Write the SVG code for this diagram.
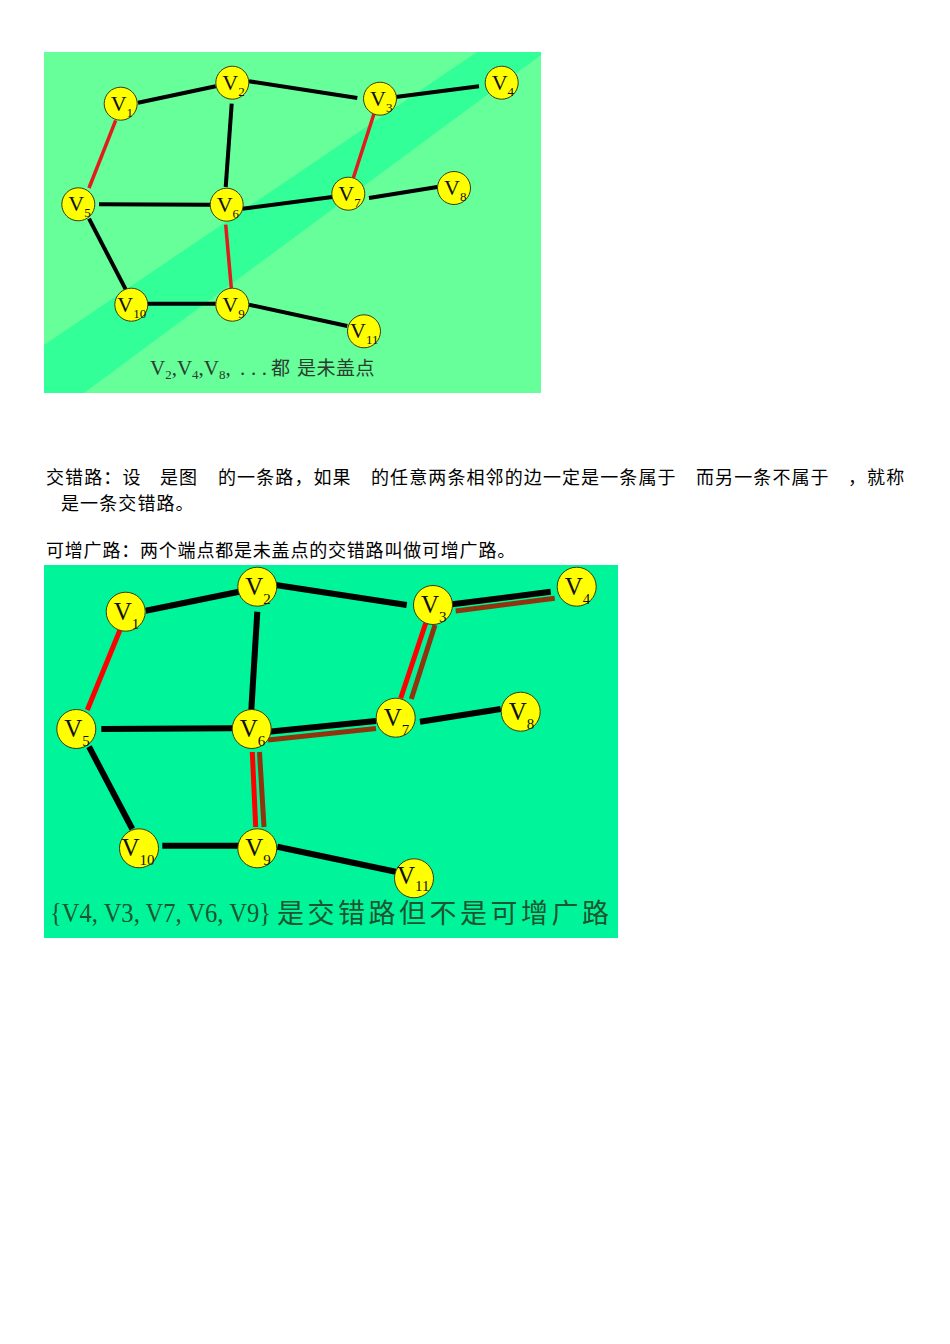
<svg xmlns="http://www.w3.org/2000/svg" width="950" height="1344" viewBox="0 0 950 1344">
<style>
.bg{fill:#ffffff}
.nd circle{fill:#ffff00;stroke:#3a3a10;stroke-width:1}
.tv{font-family:"Liberation Serif","Times New Roman",serif;font-size:22px;fill:#111}
.ts{font-size:13px}
.bv{font-family:"Liberation Serif","Times New Roman",serif;font-size:25px;fill:#111}
.bs{font-size:15px}
.tk{stroke:#000;stroke-width:4;fill:none}
.tr{stroke:#e31b1b;stroke-width:3.5;fill:none}
.bk{stroke:#000;stroke-width:6;fill:none}
.br{stroke:#ff0000;stroke-width:5;fill:none}
.bb{stroke:#8f340c;stroke-width:5;fill:none}
.body{font-family:"Noto Sans CJK SC","Noto Sans",sans-serif;font-size:18px;fill:#000}
.cap1{font-family:"Liberation Serif","Times New Roman",serif;font-size:21px;fill:#2b3d30}
.cap1c{font-family:"Noto Sans CJK SC",sans-serif;font-size:19px;fill:#2b3d30}
.cap2{font-family:"Liberation Serif","Times New Roman",serif;font-size:27px;fill:#1d5530}
.cap2c{font-family:"Noto Sans CJK SC",sans-serif;font-size:27px;fill:#1d5530}
</style>
<rect class="bg" x="0" y="0" width="950" height="1344"/>

<!-- Top panel -->
<g id="top-panel">
<rect x="44" y="52" width="497" height="341" fill="#66ff99"/>
<polygon points="44,345 477,52 541,52 541,55 84,393 44,393" fill="#33ff99"/>
</g>

<g id="top-edges">
<line class="tk" x1="138" y1="102.7" x2="215.7" y2="86.3"/>
<line class="tk" x1="249" y1="81.3" x2="357.3" y2="98"/>
<line class="tk" x1="395.7" y1="97" x2="479" y2="86.3"/>
<line class="tr" x1="115.7" y1="120.3" x2="89" y2="188"/>
<line class="tk" x1="231.7" y1="103.7" x2="225.7" y2="187"/>
<line class="tk" x1="99" y1="204.3" x2="210.7" y2="204.7"/>
<line class="tk" x1="242.3" y1="208.7" x2="332.3" y2="197"/>
<line class="tr" x1="374" y1="113.7" x2="353.3" y2="178"/>
<line class="tk" x1="369" y1="198" x2="437.3" y2="187"/>
<line class="tk" x1="89" y1="218.7" x2="125.7" y2="289.3"/>
<line class="tr" x1="225.7" y1="224.7" x2="231.3" y2="288"/>
<line class="tk" x1="147.3" y1="303.7" x2="215.7" y2="303.7"/>
<line class="tk" x1="249" y1="304.7" x2="347.3" y2="326"/>
</g>

<g id="t-v1" class="nd"><circle cx="120.7" cy="103.7" r="16.5"/><text class="tv" x="110.7" y="110.7">V<tspan class="ts" dy="6">1</tspan></text></g>
<g id="t-v2" class="nd"><circle cx="232.3" cy="82.7" r="16.5"/><text class="tv" x="222.3" y="89.7">V<tspan class="ts" dy="6">2</tspan></text></g>
<g id="t-v3" class="nd"><circle cx="380" cy="98.7" r="16.5"/><text class="tv" x="370" y="105.7">V<tspan class="ts" dy="6">3</tspan></text></g>
<g id="t-v4" class="nd"><circle cx="501.7" cy="82.7" r="16.5"/><text class="tv" x="491.7" y="89.7">V<tspan class="ts" dy="6">4</tspan></text></g>
<g id="t-v5" class="nd"><circle cx="78.3" cy="204.3" r="16.5"/><text class="tv" x="68.3" y="211.3">V<tspan class="ts" dy="6">5</tspan></text></g>
<g id="t-v6" class="nd"><circle cx="226.7" cy="204.7" r="16.5"/><text class="tv" x="216.7" y="211.7">V<tspan class="ts" dy="6">6</tspan></text></g>
<g id="t-v7" class="nd"><circle cx="348.3" cy="193.7" r="16.5"/><text class="tv" x="338.3" y="200.7">V<tspan class="ts" dy="6">7</tspan></text></g>
<g id="t-v8" class="nd"><circle cx="454" cy="188" r="16.5"/><text class="tv" x="444" y="195">V<tspan class="ts" dy="6">8</tspan></text></g>
<g id="t-v9" class="nd"><circle cx="232.3" cy="304.7" r="16.5"/><text class="tv" x="222.3" y="311.7">V<tspan class="ts" dy="6">9</tspan></text></g>
<g id="t-v10" class="nd"><circle cx="131.3" cy="304.7" r="16.5"/><text class="tv" x="117.3" y="311.7">V<tspan class="ts" dy="6">10</tspan></text></g>
<g id="t-v11" class="nd"><circle cx="364" cy="331.3" r="16.5"/><text class="tv" x="350" y="338.3">V<tspan class="ts" dy="6">11</tspan></text></g>

<g id="top-caption">
<text class="cap1" x="150" y="375">V<tspan class="ts" dy="4">2</tspan><tspan dy="-4">,V</tspan><tspan class="ts" dy="4">4</tspan><tspan dy="-4">,V</tspan><tspan class="ts" dy="4">8</tspan><tspan dy="-4">,</tspan></text>
<text class="cap1" x="240" y="375" textLength="27" lengthAdjust="spacing">...</text>
<text class="cap1c" x="271" y="375">都</text>
<text class="cap1c" x="297" y="375" letter-spacing="0.5">是未盖点</text>
</g>

<!-- Body text -->
<g id="body-text">
<text class="body" y="483.5" letter-spacing="1.1"><tspan x="46">交错路：设</tspan><tspan x="160">是图</tspan><tspan x="218">的一条路，如果</tspan><tspan x="371">的任意两条相邻的边一定是一条属于</tspan><tspan x="696">而另一条不属于</tspan><tspan x="848">，就称</tspan></text>
<text class="body" x="61" y="509.5" letter-spacing="1.1">是一条交错路。</text>
<text class="body" x="46" y="557" letter-spacing="0.8">可增广路：两个端点都是未盖点的交错路叫做可增广路。</text>
</g>

<!-- Bottom panel -->
<g id="bottom-panel">
<rect x="44" y="565" width="574" height="373" fill="#00f59b"/>
</g>

<g id="bottom-edges">
<line class="bk" x1="145.7" y1="610.7" x2="239" y2="591.7"/>
<line class="bk" x1="275.7" y1="585" x2="406.7" y2="605"/>
<line class="bk" x1="452.3" y1="604.3" x2="550.7" y2="591.7"/>
<line class="bb" x1="455.7" y1="611" x2="554.7" y2="598.3"/>
<line class="br" x1="120" y1="630" x2="87.3" y2="710"/>
<line class="bk" x1="257.3" y1="611.7" x2="251.3" y2="710"/>
<line class="bk" x1="101.3" y1="729" x2="232.3" y2="728.3"/>
<line class="bk" x1="266" y1="732" x2="376" y2="721"/>
<line class="bb" x1="268" y1="740" x2="376" y2="728.5"/>
<line class="br" x1="425.7" y1="623.3" x2="400.7" y2="698.3"/>
<line class="bb" x1="435" y1="625" x2="411.3" y2="699"/>
<line class="bk" x1="420" y1="721.7" x2="500.7" y2="709"/>
<line class="br" x1="252.3" y1="752" x2="255.7" y2="827"/>
<line class="bb" x1="259.5" y1="752" x2="264" y2="827"/>
<line class="bk" x1="89" y1="746.7" x2="132.3" y2="829"/>
<line class="bk" x1="162.3" y1="845.7" x2="239" y2="845.7"/>
<line class="bk" x1="277.3" y1="846.7" x2="395.7" y2="871.7"/>
</g>

<g id="b-v1" class="nd"><circle cx="125.7" cy="611.7" r="19.5"/><text class="bv" x="113.7" y="619.7">V<tspan class="bs" dy="9">1</tspan></text></g>
<g id="b-v2" class="nd"><circle cx="257.3" cy="586.7" r="19.5"/><text class="bv" x="245.3" y="594.7">V<tspan class="bs" dy="9">2</tspan></text></g>
<g id="b-v3" class="nd"><circle cx="433" cy="605" r="19.5"/><text class="bv" x="421" y="613">V<tspan class="bs" dy="9">3</tspan></text></g>
<g id="b-v4" class="nd"><circle cx="576.7" cy="586.7" r="19.5"/><text class="bv" x="564.7" y="594.7">V<tspan class="bs" dy="9">4</tspan></text></g>
<g id="b-v5" class="nd"><circle cx="76.3" cy="729" r="19.5"/><text class="bv" x="64.3" y="737">V<tspan class="bs" dy="9">5</tspan></text></g>
<g id="b-v6" class="nd"><circle cx="251.7" cy="729" r="19.5"/><text class="bv" x="239.7" y="737">V<tspan class="bs" dy="9">6</tspan></text></g>
<g id="b-v7" class="nd"><circle cx="395.7" cy="717.7" r="19.5"/><text class="bv" x="383.7" y="725.7">V<tspan class="bs" dy="9">7</tspan></text></g>
<g id="b-v8" class="nd"><circle cx="520.7" cy="711.7" r="19.5"/><text class="bv" x="508.7" y="719.7">V<tspan class="bs" dy="9">8</tspan></text></g>
<g id="b-v9" class="nd"><circle cx="257.3" cy="848.3" r="19.5"/><text class="bv" x="245.3" y="856.3">V<tspan class="bs" dy="9">9</tspan></text></g>
<g id="b-v10" class="nd"><circle cx="139" cy="848.3" r="19.5"/><text class="bv" x="121.5" y="856.3">V<tspan class="bs" dy="9">10</tspan></text></g>
<g id="b-v11" class="nd"><circle cx="414" cy="878.3" r="19.5"/><text class="bv" x="397" y="884.3">V<tspan class="bs" dy="7">11</tspan></text></g>

<g id="bottom-caption">
<text class="cap2" x="50" y="922" textLength="221" lengthAdjust="spacingAndGlyphs">{V4, V3, V7, V6, V9}</text>
<text class="cap2c" x="277" y="923" textLength="332" lengthAdjust="spacing">是交错路但不是可增广路</text>
</g>
</svg>
